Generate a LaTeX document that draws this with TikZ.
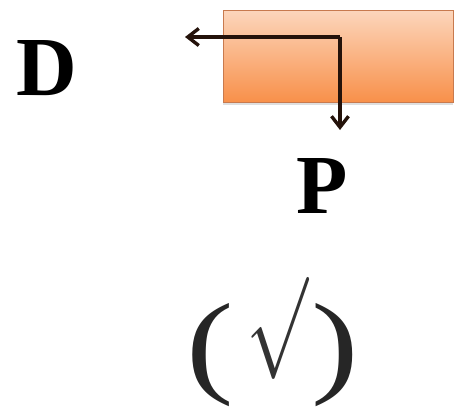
\documentclass[tikz,border=0pt]{standalone}
\usepackage{fontspec}
\setmainfont{Liberation Serif}
\usetikzlibrary{arrows.meta,shadows}
\definecolor{boxtop}{HTML}{FCD6BC}
\definecolor{boxbot}{HTML}{F8904A}
\definecolor{boxedge}{HTML}{C87A4E}
\definecolor{arrowc}{HTML}{24120A}
\tikzset{
  letter/.style={inner sep=0pt, font=\bfseries\fontsize{84}{84}\selectfont, text=black},
  paren/.style={inner sep=0pt, font=\fontsize{114}{114}\selectfont, text=black!85, xscale=1.25},
  chk/.style={inner sep=0pt, text=black!80},
  box/.style={draw=boxedge, line width=0.8pt, top color=boxtop, bottom color=boxbot,
    minimum width=230pt, minimum height=92pt, inner sep=0pt,
    drop shadow={opacity=0.25, shadow xshift=0pt, shadow yshift=-3pt}},
  arr/.style={draw=arrowc, line width=3.4pt, -{Straight Barb[length=11pt,width=17pt]}}
}
\begin{document}
\begin{tikzpicture}[x=1pt,y=-1pt]
\useasboundingbox[fill=white] (0,0) rectangle (458,407);
\node[box] (r) at (338,56) {};
\coordinate (c) at (340,37);
\coordinate (l) at (185,37);
\coordinate (b) at (340,130);
\draw[arr] (c) -- (l);
\draw[arr] (c) -- (b);
\node[letter] (d) at (47,68) {D};
\node[letter] (p) at (322,186) {P};
\node[paren] (lp) at (210,355) {(};
\node[chk] (s) at (277,328) {\scalebox{7.4}[10.2]{$\surd$}};
\node[paren] (rp) at (335,355) {)};
\end{tikzpicture}
\end{document}
